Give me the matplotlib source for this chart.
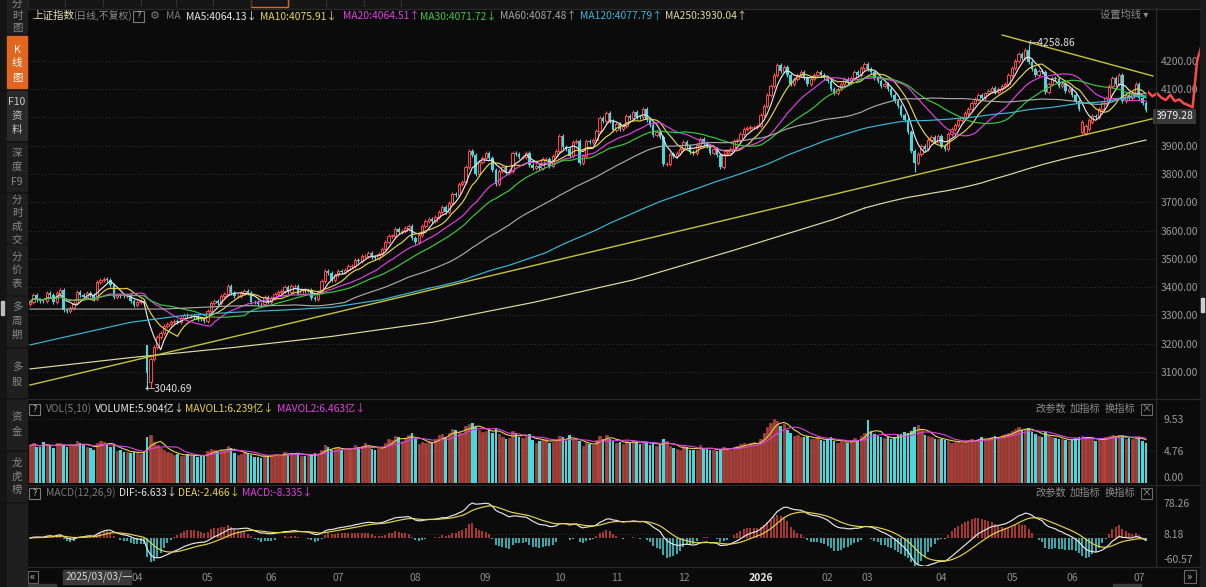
import numpy as np
import pandas as pd
import matplotlib
matplotlib.use("Agg")
import matplotlib.pyplot as plt
from matplotlib.patches import Rectangle

plt.rcParams['font.family'] = ['Noto Sans CJK SC', 'DejaVu Sans']

W, H = 1206, 587
BG = '#0b0b0b'
UP = '#ff4a4a'
UP_FILL = '#a8403a'
DN = '#47d8de'

# ---------------- data (daily closes) ----------------
c_2025_02 = [3346, 3371, 3355, 3351, 3350, 3379, 3373, 3346, 3380, 3388, 3320]
c_2025_03 = [3316, 3325, 3342, 3381, 3372, 3366, 3379, 3371, 3358, 3419, 3426, 3429, 3426, 3408, 3364, 3370, 3369, 3368, 3373, 3351, 3336]
c_2025_04 = [3348, 3350, 3342, 3097, 3145, 3186, 3224, 3238, 3263, 3268, 3276, 3281, 3277, 3292, 3300, 3296, 3297, 3295, 3288, 3287, 3279]
c_2025_05 = [3316, 3343, 3352, 3342, 3369, 3374, 3404, 3380, 3367, 3367, 3380, 3387, 3380, 3348, 3346, 3340, 3339, 3363, 3347]
c_2025_06 = [3361, 3376, 3384, 3385, 3399, 3384, 3402, 3403, 3377, 3388, 3387, 3388, 3362, 3359, 3381, 3420, 3455, 3448, 3424, 3444]
c_2025_07 = [3457, 3454, 3461, 3473, 3473, 3497, 3493, 3509, 3510, 3520, 3505, 3503, 3516, 3534, 3560, 3582, 3582, 3605, 3593, 3597, 3609, 3615, 3573]
c_2025_08 = [3560, 3583, 3617, 3634, 3640, 3635, 3647, 3665, 3683, 3666, 3697, 3728, 3727, 3766, 3771, 3826, 3883, 3868, 3800, 3843, 3858]
c_2025_09 = [3876, 3858, 3813, 3766, 3812, 3826, 3807, 3812, 3875, 3871, 3860, 3861, 3876, 3831, 3820, 3829, 3822, 3853, 3853, 3828, 3863, 3883]
c_2025_10 = [3934, 3897, 3889, 3865, 3912, 3916, 3839, 3864, 3917, 3914, 3922, 3951, 3997, 3988, 4016, 3986, 3955]
c_2025_11 = [3976, 3960, 3969, 4007, 3997, 4019, 4003, 4000, 4029, 3990, 3972, 3939, 3947, 3932, 3835, 3837, 3870, 3865, 3875, 3889]
c_2025_12 = [3914, 3898, 3878, 3876, 3903, 3924, 3910, 3900, 3873, 3889, 3867, 3825, 3870, 3876, 3890, 3917, 3919, 3940, 3960, 3963, 3965, 3965, 3969]
c_2026_01 = [4010, 4040, 4080, 4110, 4150, 4185, 4165, 4180, 4150, 4120, 4135, 4150, 4160, 4140, 4120, 4135, 4150, 4160, 4150, 4140]
c_2026_02 = [4130, 4100, 4085, 4100, 4120, 4135, 4125, 4140, 4160, 4150, 4175, 4190]
c_2026_03 = [4170, 4160, 4140, 4130, 4110, 4120, 4100, 4080, 4060, 4040, 4010, 3990, 3950, 3880, 3840, 3870, 3900, 3890, 3920, 3930, 3915, 3935]
c_2026_04 = [3900, 3890, 3940, 3960, 3975, 3990, 4000, 4015, 4030, 4050, 4065, 4080, 4070, 4085, 4095, 4105, 4090, 4100, 4110, 4120, 4150]
c_2026_05 = [4175, 4200, 4225, 4210, 4240, 4195, 4170, 4150, 4165, 4160, 4090, 4120, 4140, 4135, 4110, 4120, 4095, 4100]
c_2026_06 = [4080, 4060, 4030, 3985, 3970, 3990, 4005, 4000, 4030, 4050, 4070, 4110, 4140, 4120, 4150, 4060, 4080, 4070, 4085, 4120]
c_2026_07 = [4070, 4050, 4025]

# volume per day (axis units)
v_2025_02 = [5.6, 5.9, 5.4, 5.3, 6.1, 5.8, 5.5, 5.2, 5.9, 6.0, 5.7]
v_2025_03 = [5.3, 5.5, 5.6, 6.2, 6.0, 5.6, 5.4, 5.2, 5.0, 6.0, 6.3, 6.1, 5.7, 5.4, 5.6, 4.8, 4.9, 4.7, 4.6, 4.5, 4.6]
v_2025_04 = [4.5, 4.4, 4.6, 6.9, 7.2, 6.1, 5.6, 5.2, 4.9, 4.6, 4.5, 4.2, 4.3, 4.0, 4.1, 4.3, 4.2, 4.0, 3.9, 4.0, 4.2]
v_2025_05 = [4.8, 5.1, 5.0, 4.6, 5.0, 4.9, 5.5, 5.2, 4.5, 4.2, 4.4, 4.6, 4.3, 4.2, 3.9, 3.9, 3.8, 4.2, 4.0]
v_2025_06 = [4.2, 4.3, 4.2, 4.1, 4.6, 4.4, 4.5, 4.3, 4.4, 4.1, 4.0, 4.1, 4.2, 4.5, 4.3, 5.0, 5.6, 5.3, 5.0, 5.2]
v_2025_07 = [5.3, 5.0, 4.9, 5.1, 5.0, 5.6, 5.4, 5.5, 5.9, 5.5, 5.1, 5.0, 5.2, 5.3, 6.0, 6.6, 6.4, 7.0, 6.8, 6.3, 6.7, 7.1, 7.5]
v_2025_08 = [6.5, 5.8, 6.1, 6.0, 6.2, 5.9, 6.4, 7.2, 7.3, 6.9, 7.4, 8.1, 7.9, 7.6, 7.5, 8.5, 8.8, 8.9, 8.4, 7.9, 7.6]
v_2025_09 = [7.8, 8.0, 7.4, 8.2, 7.3, 6.8, 6.6, 6.7, 7.7, 7.4, 6.9, 6.7, 7.0, 7.3, 6.4, 5.9, 6.3, 6.6, 6.5, 6.0, 6.1, 6.4]
v_2025_10 = [7.0, 6.8, 6.3, 7.1, 6.5, 6.4, 6.2, 5.5, 5.9, 5.8, 5.7, 6.4, 7.0, 6.6, 7.2, 6.5, 6.3]
v_2025_11 = [6.0, 6.1, 5.8, 6.2, 6.0, 6.4, 6.1, 5.8, 6.2, 6.1, 5.7, 5.9, 5.5, 5.6, 6.5, 6.3, 5.5, 5.2, 5.1, 5.0]
v_2025_12 = [5.5, 5.3, 5.0, 4.9, 5.0, 5.6, 5.2, 5.1, 5.0, 4.9, 4.8, 5.1, 5.3, 5.2, 5.0, 5.4, 5.5, 5.8, 6.0, 5.7, 5.9, 6.1, 5.8]
v_2026_01 = [6.6, 7.4, 8.3, 9.0, 9.6, 9.3, 8.5, 8.8, 7.9, 7.5, 7.0, 7.2, 6.9, 6.8, 7.0, 6.6, 6.5, 6.8, 6.4, 6.3]
v_2026_02 = [6.5, 6.8, 6.2, 6.0, 6.3, 6.1, 5.9, 6.4, 6.7, 6.3, 7.0, 7.4]
v_2026_03 = [9.4, 7.8, 7.3, 7.0, 6.9, 6.7, 6.8, 6.5, 6.9, 7.1, 7.3, 7.6, 7.4, 7.8, 8.3, 8.6, 7.9, 7.2, 7.0, 6.8, 6.5, 6.6]
v_2026_04 = [6.5, 6.4, 6.2, 6.0, 6.1, 6.3, 6.0, 6.2, 6.4, 6.5, 6.3, 6.6, 6.8, 6.5, 6.7, 6.9, 7.0, 6.8, 7.1, 7.3, 7.5]
v_2026_05 = [7.8, 8.0, 8.3, 7.9, 8.1, 8.2, 7.6, 7.3, 7.0, 6.8, 7.6, 7.1, 6.9, 6.7, 6.5, 6.6, 6.4, 6.2]
v_2026_06 = [6.5, 6.7, 6.9, 7.0, 6.8, 6.6, 6.5, 6.3, 6.5, 6.6, 6.8, 7.0, 7.2, 6.9, 7.1, 7.0, 6.6, 6.7, 6.5, 6.9]
v_2026_07 = [6.8, 6.3, 5.9]

month_closes = [c_2025_02, c_2025_03, c_2025_04, c_2025_05, c_2025_06, c_2025_07, c_2025_08,
                c_2025_09, c_2025_10, c_2025_11, c_2025_12, c_2026_01, c_2026_02, c_2026_03,
                c_2026_04, c_2026_05, c_2026_06, c_2026_07]
month_vols = [v_2025_02, v_2025_03, v_2025_04, v_2025_05, v_2025_06, v_2025_07, v_2025_08,
              v_2025_09, v_2025_10, v_2025_11, v_2025_12, v_2026_01, v_2026_02, v_2026_03,
              v_2026_04, v_2026_05, v_2026_06, v_2026_07]
month_labels = ['03', '04', '05', '06', '07', '08', '09', '10', '11', '12', '2026', '02', '03',
                '04', '05', '06', '07']   # labels for months 2..18

first_open = 3340
open_override = {35: 3193.5, 36: 3064.0, 314: 3950, 315: 3945, 316: 3960, 317: 3985}
high_override = {35: 3193.5, 298: 4258.86}
low_override = {35: 3040.69, 36: 3042.0, 264: 3808.0, 315: 3938.0}
wick_pts = 7.0

# long moving averages before a full window exists
ma60_early_idx = [0, 20, 40]
ma60_early_val = [3322, 3322, 3322]
ma120_early_idx = [0, 15, 30, 45, 60, 75, 90, 105]
ma120_early_val = [3195, 3235, 3275, 3298, 3310, 3318, 3328, 3355]
ma250_early_idx = [0, 30, 60, 90, 120, 150, 180, 210, 240]
ma250_early_val = [3110, 3150, 3185, 3225, 3275, 3345, 3425, 3530, 3640]

# drawn trend lines (index, price)
trend_up_idx = [0, 334.8]
trend_up_val = [3053, 3995]
trend_dn_idx = [290.1, 335.1]
trend_dn_val = [4292, 4147]

# intraday mini line on the right edge
intraday = [4090, 4075, 4086, 4070, 4062, 4080, 4058, 4064, 4050, 4044, 4036, 4200, 4255, 4262]

# price axis labels shown (4000 is hidden under the price tag)
price_labels = [3100, 3200, 3300, 3400, 3500, 3600, 3700, 3800, 3900, 4100, 4200]
grid_levels = [3100, 3200, 3300, 3400, 3500, 3600, 3700, 3800, 3900, 4000, 4100, 4200]
last_tag = 3979.28

# ---------------- derived ----------------
closes = np.array(sum(month_closes, []), dtype=float)
vols = np.array(sum(month_vols, []), dtype=float)
n = len(closes)
idx = np.arange(n)
opens = np.concatenate([[first_open], closes[:-1]])
for k, v in open_override.items():
    opens[k] = v
highs = np.maximum(opens, closes) + wick_pts
lows = np.minimum(opens, closes) - wick_pts
for k, v in high_override.items():
    highs[k] = v
for k, v in low_override.items():
    lows[k] = v
up = closes >= opens
lens = [len(m) for m in month_closes]
month_starts = list(np.cumsum(lens)[:-1])

s = pd.Series(closes)
ma = {w: s.rolling(w, min_periods=1).mean().values for w in (5, 10, 20, 30, 60, 120, 250)}

# ---------------- figure ----------------
fig = plt.figure(figsize=(W / 100, H / 100), dpi=100, facecolor=BG)


def px_ax(l, t, r, b):
    a = fig.add_axes([l / W, 1 - b / H, (r - l) / W, (b - t) / H])
    a.set_facecolor('none')
    for sp in a.spines.values():
        sp.set_visible(False)
    return a


bg = px_ax(0, 0, W, H)
bg.set_xlim(0, W)
bg.set_ylim(H, 0)
bg.axis('off')
bg.add_patch(Rectangle((0, 0), W, H, color=BG, zorder=0))

X0, X1 = (27 - 30) / 3.351, (1155 - 30) / 3.351
GRID = '#303030'
TXT = '#8c8c8c'
FS = 7.4
YLIM_P = (3007.1, 4387.6)

# ---- price panel ----
ax = px_ax(27, 8, 1155, 398)
ax.set_xlim(X0, X1)
ax.set_ylim(*YLIM_P)
for lv in grid_levels:
    ax.axhline(lv, color=GRID, lw=0.7, ls=(0, (1, 2)), zorder=1)
ax.set_xticks([])
ax.yaxis.tick_right()
ax.set_yticks(price_labels)
ax.set_yticklabels([f'{v:.2f}' for v in price_labels])
ax.tick_params(axis='y', length=0, pad=4, labelsize=7.5, labelcolor='#9a9a9a')

colors = np.where(up, UP, DN)
ax.vlines(idx, lows, highs, colors=colors, lw=0.8, zorder=2)
body_lo = np.minimum(opens, closes)
body_h = np.maximum(np.abs(closes - opens), 1.2)
ax.bar(idx[up], body_h[up], bottom=body_lo[up], width=0.72, facecolor=BG,
       edgecolor=UP, linewidth=0.7, zorder=3)
ax.bar(idx[~up], body_h[~up], bottom=body_lo[~up], width=0.72, color=DN,
       linewidth=0, zorder=3)

ma_colors = {5: '#e6e6e6', 10: '#e6d24a', 20: '#e040e0', 30: '#3cc83c',
             60: '#a8a8a8', 120: '#3ab8d8', 250: '#e0dca0'}
for w in (5, 10, 20, 30):
    ax.plot(idx, ma[w], color=ma_colors[w], lw=0.85, zorder=4)
for w, ei, ev in ((60, ma60_early_idx, ma60_early_val),
                  (120, ma120_early_idx, ma120_early_val),
                  (250, ma250_early_idx, ma250_early_val)):
    full = idx >= w - 1
    ax.plot(list(ei) + [w - 1], list(ev) + [ma[w][w - 1]], color=ma_colors[w], lw=0.85, zorder=4)
    ax.plot(idx[full], ma[w][full], color=ma_colors[w], lw=0.85, zorder=4)

ax.plot(trend_up_idx, trend_up_val, color='#c8c23c', lw=1.0, zorder=5)
ax.plot(trend_dn_idx, trend_dn_val, color='#c8c23c', lw=1.0, zorder=5)

lo_i = int(np.argmin(lows))
hi_i = int(np.argmax(highs))
ax.text(lo_i - 0.8, lows[lo_i], '←' + f'{lows[lo_i]:.2f}', color='#e0e0e0', fontsize=FS,
        va='center', ha='left', zorder=6)
ax.text(hi_i - 0.2, highs[hi_i] + 4, '←' + f'{highs[hi_i]:.2f}', color='#e0e0e0', fontsize=FS,
        va='center', ha='left', zorder=6)

# ---- volume panel ----
av = px_ax(27, 400, 1155, 483)
av.set_xlim(X0, X1)
av.set_ylim(0, 12.39)
av.set_xticks([])
for lv in (4.76, 9.53):
    av.axhline(lv, color=GRID, lw=0.7, ls=(0, (1, 2)), zorder=1)
av.bar(idx[up], vols[up], width=0.72, color=UP_FILL, edgecolor='#c44c44', linewidth=0.4, zorder=2)
av.bar(idx[~up], vols[~up], width=0.72, color=DN, linewidth=0, zorder=2)
vs = pd.Series(vols)
av.plot(idx, vs.rolling(5, min_periods=1).mean(), color='#e6d24a', lw=0.8, zorder=3)
av.plot(idx, vs.rolling(10, min_periods=1).mean(), color='#e040e0', lw=0.8, zorder=3)
av.yaxis.tick_right()
av.set_yticks([0, 4.76, 9.53])
av.set_yticklabels(['0.00', '4.76', '9.53'])
av.tick_params(axis='y', length=0, pad=6, labelsize=7.5, labelcolor='#9a9a9a')
av.get_yticklabels()[0].set_va('bottom')

# ---- MACD panel ----
am = px_ax(27, 485, 1155, 566)
am.set_xlim(X0, X1)
am.set_ylim(-62.6, 118.5)
ema12 = s.ewm(span=12, adjust=False).mean()
ema26 = s.ewm(span=26, adjust=False).mean()
dif = (ema12 - ema26).values
dea = pd.Series(dif).ewm(span=9, adjust=False).mean().values
hist = 2 * (dif - dea)
am.axhline(8.18, color=GRID, lw=0.7, ls=(0, (1, 2)), zorder=1)
am.vlines(idx, 0, hist, colors=np.where(hist >= 0, '#d2463f', DN), lw=1.1, zorder=2)
am.plot(idx, dif, color='#e6e6e6', lw=0.85, zorder=3)
am.plot(idx, dea, color='#e6d24a', lw=0.85, zorder=3)
am.yaxis.tick_right()
am.set_yticks([-60.57, 8.18, 78.26])
am.set_yticklabels(['-60.57', '8.18', '78.26'])
am.tick_params(axis='y', length=0, pad=6, labelsize=7.5, labelcolor='#9a9a9a')
am.get_yticklabels()[0].set_va('bottom')
am.set_xticks(month_starts)
am.set_xticklabels(month_labels)
am.tick_params(axis='x', length=0, pad=5, labelsize=7.5, labelcolor=TXT)
for t in am.get_xticklabels():
    if t.get_text() == '2026':
        t.set_color('#e8e8e8')
        t.set_fontweight('bold')
am.get_xticklabels()[0].set_visible(False)

# ---- intraday mini line ----
ai = px_ax(1148, 8, 1206, 398)
ai.set_xlim(0, len(intraday) - 1)
ai.set_ylim(*YLIM_P)
ai.axis('off')
ai.plot(range(len(intraday)), intraday, color='#ff4a4a', lw=1.8)

# ---------------- decorations (overlay) ----------------
ov = px_ax(0, 0, W, H)
ov.set_xlim(0, W)
ov.set_ylim(H, 0)
ov.axis('off')


def rect(x, y, w, h, **kw):
    ov.add_patch(Rectangle((x, y), w, h, **kw))


def txt(x, y, s_, c=TXT, fs=FS, ha='left', va='center', **kw):
    ov.text(x, y, s_, color=c, fontsize=fs, ha=ha, va=va, **kw)


# top tab strip
rect(27, 0, 1179, 8, color='#161616', zorder=1)
for xs in (28, 65, 103, 141, 176, 213, 251, 289, 326, 364, 401):
    ov.plot([xs, xs], [0, 6], color='#333333', lw=0.8)
rect(251, -2, 37, 8.5, fill=False, edgecolor='#e2661e', lw=1.0)

# separators / frame lines
for y in (8.5, 398.5, 484.5, 566.5):
    ov.plot([27, 1200], [y, y], color='#2a2a2a', lw=0.9)
ov.plot([1155.5, 1155.5], [8, 567], color='#2a2a2a', lw=0.9)
rect(1200, 0, 6, H, color='#1b1b1b', zorder=1)
rect(1201, 298, 3, 14, color='#cfcfcf', zorder=2)

# left sidebar
rect(0, 0, 27, H, color='#141414', zorder=1)
buttons = [(0, 33), (36, 88), (91, 140), (143, 191), (194, 242), (245, 294),
           (297, 346), (349, 397), (400, 449), (452, 501), (504, 587)]
for i, (t0, t1) in enumerate(buttons):
    col = '#e2661e' if i == 1 else ('#2a2a2a' if i == 2 else '#1f1f1f')
    rect(7, t0, 20, t1 - t0, color=col, zorder=2)
side_text = [
    (['分', '时', '图'], [4, 16, 28]),
    (['K', '线', '图'], [50, 63, 78]),
    (['F10', '资', '料'], [102, 116, 130]),
    (['深', '度', 'F9'], [153, 167, 182]),
    (['分', '时', '成', '交'], [200, 213, 227, 240]),
    (['分', '价', '表'], [257, 270, 283]),
    (['多', '周', '期'], [307, 321, 335]),
    (['多', '股'], [367, 382]),
    (['资', '金'], [417, 432]),
    (['龙', '虎', '榜'], [463, 477, 490]),
]
for bi, (chars, ys) in enumerate(side_text):
    c = '#ffffff' if bi == 1 else ('#c8c8c8' if bi == 2 else '#8a8a8a')
    for ch, y in zip(chars, ys):
        txt(17, y, ch, c=c, fs=7.5, ha='center', zorder=3)
rect(1, 301, 2.5, 14, color='#bdbdbd', zorder=3)


def qbox(x, y):
    rect(x, y - 5.5, 11, 11, fill=False, edgecolor='#7a7a7a', lw=0.8)
    txt(x + 5.5, y, '?', c='#bdbdbd', fs=6.5, ha='center')


# price header
y0 = 16
txt(32, y0, '上证指数', c='#e8e0b8', fs=7.6)
txt(73, y0, '(日线,不复权)', c=TXT, fs=7.1)
qbox(133, y0)
txt(150, y0, '⚙', c='#7a7a7a', fs=8)
txt(166, y0, 'MA', c='#7a7a7a')
hdr = [(186, 'MA5:4064.13↓', ma_colors[5]), (260, 'MA10:4075.91↓', ma_colors[10]),
       (343, 'MA20:4064.51↑', ma_colors[20]), (420, 'MA30:4071.72↓', ma_colors[30]),
       (500, 'MA60:4087.48↑', ma_colors[60]), (580, 'MA120:4077.79↑', ma_colors[120]),
       (665, 'MA250:3930.04↑', ma_colors[250])]
for x, s_, c in hdr:
    txt(x, y0, s_, c=c)
txt(1100, 15, '设置均线 ▾', c=TXT)

# volume header
y1 = 409
qbox(29, y1)
txt(46, y1, 'VOL(5,10)', c='#7a7a7a')
txt(95, y1, 'VOLUME:5.904亿↓', c='#e6e6e6')
txt(185, y1, 'MAVOL1:6.239亿↓', c='#e6d24a')
txt(277, y1, 'MAVOL2:6.463亿↓', c='#e040e0')
# macd header
y2 = 493
qbox(29, y2)
txt(46, y2, 'MACD(12,26,9)', c='#7a7a7a')
txt(119, y2, 'DIF:-6.633↓', c='#e6e6e6')
txt(178, y2, 'DEA:-2.466↓', c='#e6d24a')
txt(242, y2, 'MACD:-8.335↓', c='#e040e0')
for yy in (y1, y2):
    txt(1035, yy, '改参数', c=TXT)
    txt(1070, yy, '加指标', c=TXT)
    txt(1105, yy, '换指标', c=TXT)
    rect(1141, yy - 5.5, 11, 11, fill=False, edgecolor='#6a6a6a', lw=0.8)
    txt(1146.5, yy, '×', c='#9a9a9a', fs=7, ha='center')

# current price tag (drawn on the price axes scale)
ax.text(1.0 + 1 / 1128, last_tag + 25, f'{last_tag:.2f}', transform=ax.get_yaxis_transform(),
        color='#f0f0f0', fontsize=7.5, ha='left', va='center', zorder=10, clip_on=False,
        bbox=dict(boxstyle='square,pad=0.25', facecolor='#3a3a3a', edgecolor='none'))

# bottom bar
rect(27.5, 571, 10, 12, fill=False, edgecolor='#6a6a6a', lw=0.8)
txt(32.5, 577, '«', c='#bdbdbd', fs=8, ha='center')
rect(1183.5, 570, 12, 13, fill=False, edgecolor='#6a6a6a', lw=0.8)
txt(1189.5, 576.5, '»', c='#bdbdbd', fs=8, ha='center')
rect(63, 570, 68, 14, color='#3a3a3a', zorder=5)
txt(66, 577, '2025/03/03/一', c='#d8d8d8', fs=7.3, zorder=6)
rect(28, 584, 28, 3, color='#3a3a3a')
rect(1113, 584, 28, 3, color='#3a3a3a')

fig.savefig('out.png', dpi=100, facecolor=BG)
